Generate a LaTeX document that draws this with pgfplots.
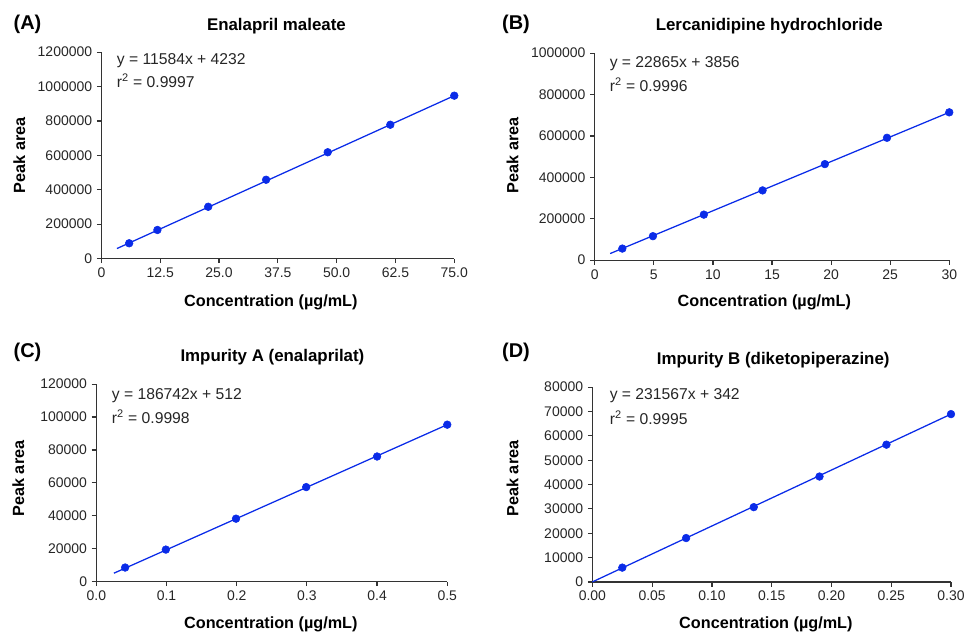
\documentclass[border=0pt]{standalone}
\usepackage{fontspec}
\setmainfont{Liberation Sans}
\usepackage{pgfplots}
\pgfplotsset{compat=1.18}
\definecolor{ptblue}{HTML}{0A2BE8}
\definecolor{axgray}{HTML}{333333}

\pgfplotsset{
  calib/.style={
    scale only axis,
    anchor=south west,
    axis lines=left,
    axis line style={axgray, line width=0.9pt, -},
    tick style={axgray, line width=0.9pt},
    tick align=outside,
    major tick length=3.5pt,
    ticklabel style={font=\fontsize{10.5}{12}\selectfont, text=black!85},
    /pgf/number format/assume math mode=true,
    scaled ticks=false,
    clip=false,
    xlabel={}, ylabel={},
  },
  fitline/.style={ptblue, line width=0.95pt, no marks},
  pts/.style={only marks, mark=*, mark size=2.9pt, mark options={fill=ptblue, draw=ptblue}},
}

\begin{document}
\begin{tikzpicture}

% (A) Enalapril maleate
\begin{axis}[calib, at={(76.3pt,-194.5pt)}, width=265.5pt, height=155.25pt,
  xmin=0, xmax=75, ymin=0, ymax=1200000,
  xtick={0,12.5,25,37.5,50,62.5,75},
  xticklabels={0,12.5,25.0,37.5,50.0,62.5,75.0},
  ytick={0,200000,400000,600000,800000,1000000,1200000},
  yticklabel style={/pgf/number format/fixed, /pgf/number format/1000 sep={}},
]
\addplot[fitline] coordinates {(3.3,58000) (75,947000)};
\addplot[pts] coordinates {(5.9,88700) (11.9,166000) (22.7,301000) (35.0,458000) (48.1,618000) (61.4,778000) (75.0,947000)};
\end{axis}

% (B) Lercanidipine hydrochloride
\begin{axis}[calib, at={(447.5pt,-195.75pt)}, width=266.7pt, height=155.8pt,
  xmin=0, xmax=30, ymin=0, ymax=1000000,
  xtick={0,5,10,15,20,25,30},
  ytick={0,200000,400000,600000,800000,1000000},
  yticklabel style={/pgf/number format/fixed, /pgf/number format/1000 sep={}},
]
\addplot[fitline] coordinates {(1.3,32000) (30,714000)};
\addplot[pts] coordinates {(2.33,56000) (4.92,116000) (9.23,220000) (14.2,337000) (19.47,464000) (24.73,591000) (30.0,714000)};
\end{axis}

% (C) Impurity A (enalaprilat)
\begin{axis}[calib, at={(72.5pt,-437.5pt)}, width=264pt, height=148.5pt,
  xmin=0, xmax=0.5, ymin=0, ymax=120000,
  xtick={0,0.1,0.2,0.3,0.4,0.5},
  xticklabels={0.0,0.1,0.2,0.3,0.4,0.5},
  ytick={0,20000,40000,60000,80000,100000,120000},
  yticklabel style={/pgf/number format/fixed, /pgf/number format/1000 sep={}},
]
\addplot[fitline] coordinates {(0.025,5050) (0.5,95350)};
\addplot[pts] coordinates {(0.041,8500) (0.099,19400) (0.199,38200) (0.299,57400) (0.4,76000) (0.5,95350)};
\end{axis}

% (D) Impurity B (diketopiperazine)
\begin{axis}[calib, at={(445.7pt,-437.8pt)}, width=269.8pt, height=146.5pt,
  xmin=0, xmax=0.3, ymin=0, ymax=80000,
  xtick={0,0.05,0.1,0.15,0.2,0.25,0.3},
  xticklabels={0.00,0.05,0.10,0.15,0.20,0.25,0.30},
  ytick={0,10000,20000,30000,40000,50000,60000,70000,80000},
  yticklabel style={/pgf/number format/fixed, /pgf/number format/1000 sep={}},
]
\addplot[fitline] coordinates {(0,0) (0.3,68940)};
\addplot[pts] coordinates {(0.025,5870) (0.0784,18020) (0.135,30720) (0.190,43290) (0.246,56390) (0.3,68940)};
\end{axis}

\begin{scope}[x=0.75pt, y=-0.75pt]
\useasboundingbox (0,0) rectangle (969,636);
\tikzset{
  plab/.style={font=\fontsize{15}{17}\bfseries, anchor=west},
  ttl/.style={font=\fontsize{12.7}{14}\bfseries},
  albl/.style={font=\fontsize{12.2}{14}\bfseries},
  eqn/.style={font=\fontsize{11.8}{13}\selectfont, anchor=west, text=black!85},
}
% panel letters
\node[plab] at (9,24.5) {(A)};
\node[plab] at (499,24.5) {(B)};
\node[plab] at (9,353) {(C)};
\node[plab] at (499,353) {(D)};
% titles
\node[ttl] at (277.3,26) {Enalapril maleate};
\node[ttl] at (771.7,26) {Lercanidipine hydrochloride};
\node[ttl] at (273.3,358.3) {Impurity A (enalaprilat)};
\node[ttl] at (775.7,361.7) {Impurity B (diketopiperazine)};
% equations
\node[eqn] at (112.5,60.7) {y = 11584x + 4232};
\node[eqn] at (112.5,81) {r\textsuperscript{2} = 0.9997};
\node[eqn] at (607,64) {y = 22865x + 3856};
\node[eqn] at (607,85) {r\textsuperscript{2} = 0.9996};
\node[eqn] at (107.5,397.3) {y = 186742x + 512};
\node[eqn] at (107.5,418.3) {r\textsuperscript{2} = 0.9998};
\node[eqn] at (607,397.3) {y = 231567x + 342};
\node[eqn] at (607,418.7) {r\textsuperscript{2} = 0.9995};
% axis labels
\node[albl, rotate=90] at (19.3,155.7) {Peak area};
\node[albl, rotate=90] at (514.3,155.7) {Peak area};
\node[albl, rotate=90] at (18.3,480) {Peak area};
\node[albl, rotate=90] at (514.3,480) {Peak area};
\node[albl] at (271.7,303.3) {Concentration (µg/mL)};
\node[albl] at (766.7,303.3) {Concentration (µg/mL)};
\node[albl] at (271.7,626) {Concentration (µg/mL)};
\node[albl] at (768.3,626) {Concentration (µg/mL)};
\end{scope}

\end{tikzpicture}
\end{document}
